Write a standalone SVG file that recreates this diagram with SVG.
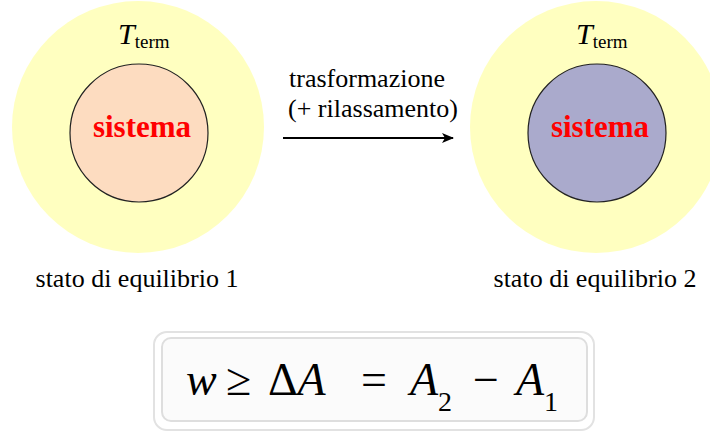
<svg xmlns="http://www.w3.org/2000/svg" width="710" height="432" viewBox="0 0 710 432">
<style>
.serif{font-family:"Liberation Serif","Times New Roman",serif;fill:#000}
.it{font-style:italic}
.sys{font-family:"Liberation Serif","Times New Roman",serif;font-weight:bold;fill:#ff0000;font-size:31px}
.outer{fill:#ffffc0}
.inner{stroke:#222;stroke-width:1.2}
</style>
<defs>
<marker id="ah" markerWidth="12" markerHeight="10" refX="11" refY="5" orient="auto" markerUnits="userSpaceOnUse">
<path d="M0,0 L12,5 L0,10 L3,5 Z" fill="#000"/>
</marker>
</defs>
<rect width="710" height="432" fill="#fff"/>
<g id="stato1">
<circle class="outer" cx="138" cy="127" r="126"/>
<circle class="inner" cx="139" cy="133" r="69" fill="#fddcc0"/>
<text class="serif" x="118" y="44"><tspan class="it" font-size="30">T</tspan><tspan font-size="19" dy="4">term</tspan></text>
<text class="sys" x="142" y="137" text-anchor="middle">sistema</text>
<text class="serif" font-size="26" x="137" y="287" text-anchor="middle">stato di equilibrio 1</text>
</g>
<g id="stato2">
<circle class="outer" cx="596" cy="127" r="126"/>
<circle class="inner" cx="597" cy="133" r="69" fill="#aaaacc"/>
<text class="serif" x="576" y="44"><tspan class="it" font-size="30">T</tspan><tspan font-size="19" dy="4">term</tspan></text>
<text class="sys" x="600" y="137" text-anchor="middle">sistema</text>
<text class="serif" font-size="26" x="595" y="287" text-anchor="middle">stato di equilibrio 2</text>
</g>
<g id="connectors">
<line x1="283" y1="138" x2="453" y2="138" stroke="#000" stroke-width="2" marker-end="url(#ah)"/>
<text class="serif" font-size="26" x="367" y="87" text-anchor="middle">trasformazione</text>
<text class="serif" font-size="26" x="373" y="117" text-anchor="middle">(+ rilassamento)</text>
</g>
<g id="equazione">
<rect x="154" y="332" width="440" height="98" rx="13" fill="#fff" stroke="#e2e2e2" stroke-width="2"/>
<rect x="162" y="338" width="425" height="83" rx="9" fill="#fbfbfb" stroke="#dedede" stroke-width="2"/>
<g class="serif" font-size="46">
<text class="it" x="186" y="395">w</text>
<text x="226" y="395">≥</text>
<text x="268" y="395">Δ<tspan class="it">A</tspan></text>
<text x="361" y="395">=</text>
<text class="it" x="410" y="395">A<tspan font-style="normal" font-size="28" dy="16">2</tspan></text>
<text x="473" y="395">−</text>
<text class="it" x="516" y="395">A<tspan font-style="normal" font-size="28" dy="16">1</tspan></text>
</g>
</g>
</svg>
